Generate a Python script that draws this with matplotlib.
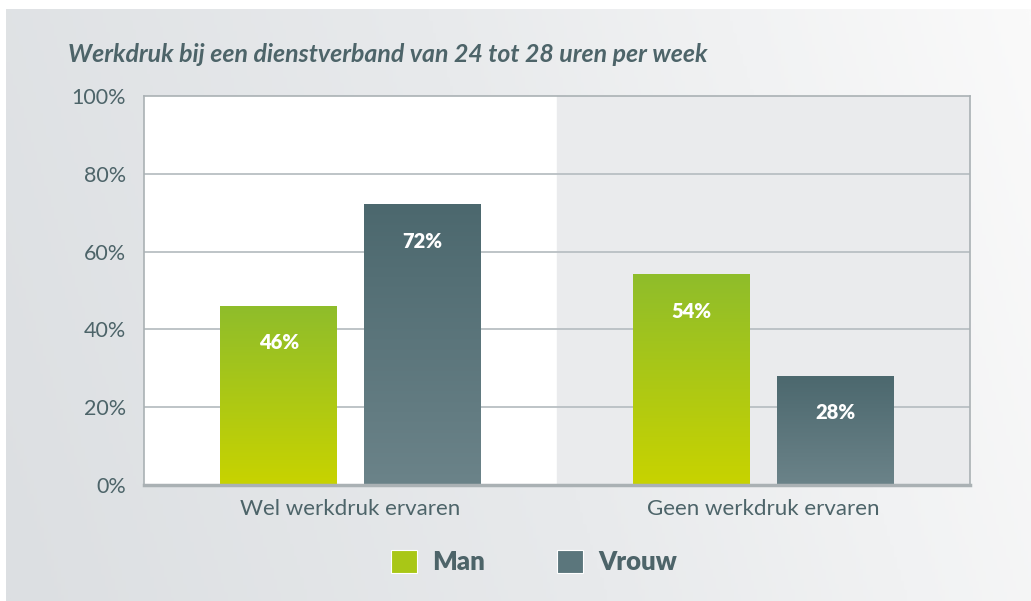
import matplotlib
matplotlib.use("Agg")
import matplotlib.pyplot as plt
from matplotlib.colors import LinearSegmentedColormap
from matplotlib.patches import Patch
from matplotlib.ticker import FuncFormatter
import numpy as np

# data
categories = ["Wel werkdruk ervaren", "Geen werkdruk ervaren"]
series = ["Man", "Vrouw"]
man = [46, 54]
vrouw = [72, 28]

title = "Werkdruk bij een dienstverband van 24 tot 28 uren per week"
txt_col = "#4d6469"
green = ("#8fbd2b", "#c8d300")   # top, bottom
slate = ("#4c686e", "#6b8389")

plt.rcParams['font.family'] = ['Lato', 'DejaVu Sans']

fig = plt.figure(figsize=(10.31, 6.01), dpi=100)

# background panel with soft gradient
bg = fig.add_axes([6/1031, 0, 1 - 6/1031, 1 - 9/601], zorder=-10)
gx = np.linspace(0, 1, 300)
gy = np.linspace(0, 1, 200)
GX, GY = np.meshgrid(gx, gy)
grad = np.clip(GX * 0.85 + GY * 0.15, 0, 1)
bg_cmap = LinearSegmentedColormap.from_list("bg", ["#dcdfe2", "#e8eaec", "#fafafa"])
bg.imshow(grad, cmap=bg_cmap, aspect="auto", extent=[0, 1, 0, 1], origin="lower")
bg.set_axis_off()

ax = fig.add_axes([144/1031, 1 - 485/601, 826/1031, 389/601])
x = np.arange(len(categories))
w = 0.283
off = 0.174

ax.set_facecolor("white")
ax.axvspan(0.5, 1.5, color="#eaebed", zorder=0)

for v in [20, 40, 60, 80]:
    ax.axhline(v, color="#b9bfc3", lw=1.3, zorder=1)


def grad_bars(xpos, vals, cols):
    bars = ax.bar(xpos, vals, w, color="none", zorder=2)
    cm = LinearSegmentedColormap.from_list("b", [cols[1], cols[0]])
    g = np.linspace(0, 1, 256).reshape(-1, 1)
    for b in bars:
        x0, y0 = b.get_x(), b.get_y()
        ax.imshow(g, cmap=cm, aspect="auto", origin="lower",
                  extent=[x0, x0 + b.get_width(), y0, y0 + b.get_height()],
                  zorder=2)
        ax.annotate(f"{b.get_height():.0f}%", (x0 + b.get_width()/2, b.get_height()),
                    xytext=(0, -26), textcoords="offset points",
                    ha="center", va="center", color="white",
                    fontsize=14.5, fontweight="heavy", zorder=3)
    return bars


grad_bars(x - off, man, green)
grad_bars(x + off, vrouw, slate)
ax.set_xlim(-0.5, len(categories) - 0.5)
ax.set_ylim(0, 100)

ax.set_yticks([0, 20, 40, 60, 80, 100])
ax.yaxis.set_major_formatter(FuncFormatter(lambda v, p: f"{v:.0f}%"))
ax.set_xticks(x)
ax.set_xticklabels(categories)
ax.tick_params(length=0, labelcolor=txt_col)
ax.tick_params(axis="y", pad=13, labelsize=15.5)
ax.tick_params(axis="x", pad=10, labelsize=16)

for s in ["left", "top", "right"]:
    ax.spines[s].set_color("#aab1b4")
    ax.spines[s].set_linewidth(1.2)
ax.spines["bottom"].set_color("#aab1b4")
ax.spines["bottom"].set_linewidth(2.5)

fig.text(68/1031, 1 - 54/601, title, fontsize=17.9, fontweight="bold",
         fontstyle="italic", color=txt_col, va="center", ha="left")

handles = [Patch(facecolor="#a9c716", edgecolor="white", lw=0.8),
           Patch(facecolor="#5b767c", edgecolor="white", lw=0.8)]
fig.legend(handles, series, loc="center", bbox_to_anchor=(534/1031, 1 - 562/601),
           ncol=2, frameon=False, prop={"size": 18.5, "weight": "heavy"},
           handlelength=1.0, handleheight=1.0, handletextpad=0.6,
           columnspacing=2.8, labelcolor=txt_col)

fig.savefig("out.png", dpi=100)
